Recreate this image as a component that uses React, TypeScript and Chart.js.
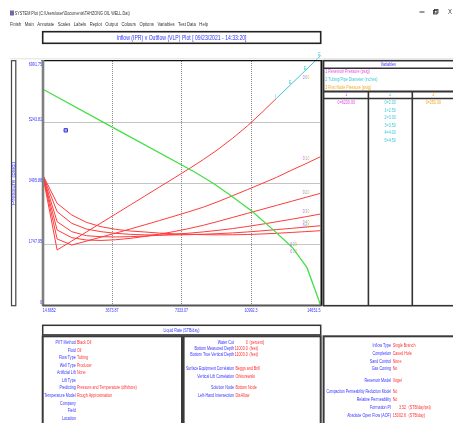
import React, { useEffect, useRef } from "react";
import { Chart, registerables } from "chart.js";

Chart.register(...registerables);

// ---------- data ----------
const liquidRates = [
  14.67, 785.03, 1555.39, 2325.75, 3096.11, 3866.47, 4636.83, 5407.19, 6177.55, 6947.91,
  7718.27, 8488.63, 9258.99, 10029.35, 10799.71, 11570.07, 12340.43, 13110.79, 13881.15, 14651.5,
];
const vlpDia200 = [3745, 1576, 1834, 2092, 2350, 2608, 2866, 3124, 3382, 3640, 3900, 4170, 4460, 4780, 5130, 5520, 5925, 6330, 6735, 7140];
const vlpDia250 = [3745, 1891, 1719, 1830, 1945, 2060, 2178, 2298, 2420, 2545, 2672, 2805, 2962, 3132, 3305, 3480, 3658, 3860, 4050, 4249];
const vlpDia300 = [3745, 2149, 1929, 1862, 1850, 1870, 1910, 1965, 2030, 2105, 2190, 2285, 2395, 2510, 2625, 2740, 2855, 2970, 3085, 3200];
const vlpDia350 = [3745, 2387, 2101, 1985, 1957, 1950, 1958, 1975, 1998, 2025, 2058, 2095, 2140, 2190, 2250, 2315, 2385, 2455, 2530, 2607];
const vlpDia400 = [3745, 2674, 2340, 2177, 2101, 2054, 2025, 2010, 2005, 2008, 2015, 2028, 2045, 2065, 2093, 2125, 2160, 2196, 2234, 2272];
const vlpDia450 = [3745, 2913, 2579, 2369, 2244, 2168, 2120, 2092, 2060, 2040, 2025, 2015, 2010, 2012, 2020, 2035, 2055, 2078, 2103, 2129];
const vlpSeries = [vlpDia200, vlpDia250, vlpDia300, vlpDia350, vlpDia400, vlpDia450];
const vlpNames = ["0=2.00", "1=2.50", "2=3.00", "3=3.50", "4=4.00", "5=4.50"];
const vlpFlagsDia200 = ["", "", "", "", "", "", "", "", "", "", "", "", "", "", "", "", "I", "E", "E", "E"];

const iprRates = [14.67, 4000, 8000, 9000, 9886, 11030, 12150, 13170, 13940, 14520, 14651.5];
const iprPressures = [6189, 5005, 3817, 3490, 3152, 2693, 2160, 1650, 1070, 200, 0];

const markerRates = [1240];
const markerPressures = [5005];

const xTickValues = [14.6652, 3673.87, 7333.07, 10992.3, 14651.5];
const xTickLabels = ["14.6652", "3673.87", "7333.07", "10992.3", "14651.5"];
const yTickValues = [0, 1747.95, 3495.88, 5243.81, 6991.75];
const yTickLabels = ["0", "1747.95", "3495.88", "5243.81", "6991.75"];

const menuItems = ["Finish", "Main", "Annotate", "Scales", "Labels", "Replot", "Output", "Colours", "Options", "Variables", "Test Data", "Help"];
const variableNames = ["1 Reservoir Pressure (psig)", "2 Tubing/Pipe Diameter (inches)", "3 First Node Pressure (psig)"];
const reservoirValues = ["0=6200.00"];
const wellheadValues = ["0=250.00"];

const leftLabels = ["PVT Method", "Fluid", "Flow Type", "Well Type", "Artificial Lift", "Lift Type", "Predicting", "Temperature Model", "Company", "Field", "Location"];
const leftValues = ["Black Oil", "Oil", "Tubing", "Producer", "None", "", "Pressure and Temperature (offshore)", "Rough Approximation", "", "", ""];
const midLabels = ["Water Cut", "Bottom Measured Depth", "Bottom True Vertical Depth", "Surface Equipment Correlation", "Vertical Lift Correlation", "Solution Node", "Left-Hand Intersection"];
const midNumbers = ["0", "11000.0", "11000.0", "", "", "", ""];
const midUnits = ["(percent)", "(feet)", "(feet)", "", "", "", ""];
const midTexts = ["", "", "", "Beggs and Brill", "Orkiszewski", "Bottom Node", "DisAllow"];
const rightLabels = ["Inflow Type", "Completion", "Sand Control", "Gas Coning", "Reservoir Model", "Compaction Permeability Reduction Model", "Relative Permeability", "Formation PI", "Absolute Open Flow (AOF)"];
const rightNumbers = ["", "", "", "", "", "", "", "3.52", "15002.6"];
const rightUnits = ["", "", "", "", "", "", "", "(STB/day/psi)", "(STB/day)"];
const rightTexts = ["Single Branch", "Cased Hole", "None", "No", "Vogel", "No", "No", "", ""];

// ---------- styles ----------
const FONT = '"Liberation Sans", Arial, sans-serif';
const BLUE = "#3434ff";
const RED = "#ff2e2e";
const LINE_RED = "#ff3b3b";
const CYAN = "#3cc6d6";
const MAGENTA = "#e24ae2";
const ORANGE = "#f2a81e";
const GREEN = "#44e044";
const SX = 0.73;

function drawText(
  ctx: CanvasRenderingContext2D, s: string, x: number, y: number, size: number, color: string,
  align: CanvasTextAlign = "left", width?: number, sx: number = SX
) {
  if (!s) return;
  ctx.save();
  ctx.font = `${size}px ${FONT}`;
  const w = ctx.measureText(s).width;
  const k = width ? Math.min(width / w, sx) : sx;
  ctx.translate(x, y);
  ctx.scale(k, 1);
  ctx.fillStyle = color;
  ctx.textAlign = align;
  ctx.textBaseline = "middle";
  ctx.fillText(s, 0, 0);
  ctx.restore();
}

function box(ctx: CanvasRenderingContext2D, x: number, y: number, w: number, h: number, lw = 1.5, color = "#333") {
  ctx.save();
  ctx.strokeStyle = color;
  ctx.lineWidth = lw;
  ctx.strokeRect(x, y, w, h);
  ctx.restore();
}

function hline(ctx: CanvasRenderingContext2D, x1: number, x2: number, y: number, lw: number, color: string) {
  ctx.save();
  ctx.strokeStyle = color;
  ctx.lineWidth = lw;
  ctx.beginPath();
  ctx.moveTo(x1, y);
  ctx.lineTo(x2, y);
  ctx.stroke();
  ctx.restore();
}
function vline(ctx: CanvasRenderingContext2D, x: number, y1: number, y2: number, lw: number, color: string) {
  ctx.save();
  ctx.strokeStyle = color;
  ctx.lineWidth = lw;
  ctx.beginPath();
  ctx.moveTo(x, y1);
  ctx.lineTo(x, y2);
  ctx.stroke();
  ctx.restore();
}

const framePlugin = {
  id: "frame",
  beforeDatasetsDraw(chart: any) {
    const ctx: CanvasRenderingContext2D = chart.ctx;
    const { left, right, top, bottom } = chart.chartArea;
    const xs = chart.scales.x;
    const ys = chart.scales.y;
    ctx.save();
    ctx.strokeStyle = "#8a8a8a";
    ctx.lineWidth = 1;
    ctx.setLineDash([1, 1]);
    xTickValues.slice(1, -1).forEach((v) => {
      const px = Math.round(xs.getPixelForValue(v)) + 0.5;
      ctx.beginPath();
      ctx.moveTo(px, top);
      ctx.lineTo(px, bottom);
      ctx.stroke();
    });
    yTickValues.slice(1, -1).forEach((v) => {
      const py = Math.round(ys.getPixelForValue(v)) + 0.5;
      ctx.beginPath();
      ctx.moveTo(left, py);
      ctx.lineTo(right, py);
      ctx.stroke();
    });
    ctx.restore();
  },
  afterDatasetsDraw(chart: any) {
    const ctx: CanvasRenderingContext2D = chart.ctx;
    const { left, right, top, bottom } = chart.chartArea;
    const xs = chart.scales.x;
    const ys = chart.scales.y;

    // plot frame
    hline(ctx, left - 1, right + 1, top - 0.3, 1.2, "#111");
    vline(ctx, right + 1, top - 1, bottom + 1, 2, "#111");
    vline(ctx, left + 0.5, top - 1, bottom + 1, 2.6, "#808080");
    hline(ctx, left, right + 1, bottom + 0.5, 2, "#555");

    // tick labels
    xTickValues.forEach((v, i) => {
      const px = xs.getPixelForValue(v);
      const align: CanvasTextAlign = i === 0 ? "left" : i === xTickValues.length - 1 ? "right" : "center";
      drawText(ctx, xTickLabels[i], px + (i === 0 ? 0.2 : 0), bottom + 5.7, 5, BLUE, align);
    });
    yTickValues.forEach((v, i) => {
      const py = ys.getPixelForValue(v);
      drawText(ctx, yTickLabels[i], left - 0.5, Math.max(py - 2.8, top + 4), 5, BLUE, "right");
    });

    // curve index labels
    const vlpMetas = [1, 2, 3, 4, 5, 6].map((d) => chart.getDatasetMeta(d));
    vlpMetas.forEach((meta: any, i: number) => {
      const pt = meta.data[18];
      const yOff = i === 0 ? 7.5 : -4.6;
      const x0 = pt.x - 3;
      drawText(ctx, "0", x0, pt.y + yOff, 4.5, MAGENTA, "left");
      drawText(ctx, String(i), x0 + 2.3, pt.y + yOff, 4.5, CYAN, "left");
      drawText(ctx, "0", x0 + 4.6, pt.y + yOff, 4.5, ORANGE, "left");
    });
    // flags on the 2.00 in curve
    const m0 = vlpMetas[0];
    vlpFlagsDia200.forEach((f, j) => {
      if (!f) return;
      const pt = m0.data[j];
      drawText(ctx, f, pt.x - 1, pt.y - 1.2, 5, CYAN, "center");
    });
    // IPR labels
    const gMeta = chart.getDatasetMeta(0);
    const gp = gMeta.data[7];
    [-2.6, 4.6].forEach((dy) => {
      drawText(ctx, "0", gp.x - 2, gp.y + dy, 4.5, MAGENTA, "left");
      drawText(ctx, "0", gp.x + 0.3, gp.y + dy, 4.5, CYAN, "left");
      drawText(ctx, "0", gp.x + 2.6, gp.y + dy, 4.5, ORANGE, "left");
    });

    // ---------- window chrome ----------
    ctx.save();
    ctx.fillStyle = "#5b6fb4";
    ctx.fillRect(10, 10.5, 4, 5);
    ctx.fillStyle = "#e04848";
    ctx.fillRect(11, 11.5, 2, 2);
    ctx.restore();
    drawText(ctx, "SYSTEM Plot (C:\\Users\\user\\Documents\\TAHZONG OIL WELL.Dat)", 14.7, 13.3, 5.5, "#333", "left", 115, 2);
    hline(ctx, 419.5, 424.5, 12, 1, "#333");
    box(ctx, 433.5, 10.5, 3.5, 3.5, 0.8, "#333");
    box(ctx, 434.5, 9.5, 3.5, 3.5, 0.8, "#333");
    drawText(ctx, "X", 450, 12, 6.5, "#333", "center", undefined, 0.9);

    // menu bar
    drawText(ctx, menuItems.join("   "), 10, 24, 5.5, "#333", "left", 198, 2);

    // title box
    box(ctx, 42.7, 31.7, 278, 11.6, 1.6, "#222");
    drawText(ctx, "Inflow (IPR) v Outflow (VLP) Plot [ 09/23/2021 - 14:33:20]", 181.5, 37.6, 7, BLUE, "center", 130, 2);

    // separator
    hline(ctx, 10, 453, 58.8, 1, "#e2e2e2");

    // left narrow axis-title box
    box(ctx, 11.5, 60.7, 4.3, 245, 1.2, "#444");
    ctx.save();
    ctx.translate(13.7, 183.5);
    ctx.rotate(-Math.PI / 2);
    drawText(ctx, "Pressure (psig)", 0, 0, 5, BLUE, "center", 43, 2);
    ctx.restore();

    // variables panel
    box(ctx, 323.6, 60.7, 140, 245, 1.6, "#333");
    drawText(ctx, "Variables", 388.3, 64.3, 5, BLUE, "center");
    hline(ctx, 323.6, 453, 68.2, 1.6, "#333");
    const varColors = [MAGENTA, CYAN, ORANGE];
    variableNames.forEach((n, i) => drawText(ctx, n, 325.3, 71.7 + i * 8, 5, varColors[i], "left"));
    hline(ctx, 323.6, 453, 91.5, 2, "#333");
    hline(ctx, 323.6, 453, 98.5, 1.4, "#333");
    vline(ctx, 368.4, 91, 305.5, 1.6, "#333");
    vline(ctx, 412.3, 91, 305.5, 1.6, "#333");
    const colX = [346.3, 390.2, 433.3];
    ["1", "2", "3"].forEach((c, i) => drawText(ctx, c, colX[i], 95, 5, varColors[i], "center"));
    reservoirValues.forEach((v, i) => drawText(ctx, v, colX[0], 102.7 + i * 7.6, 5, MAGENTA, "center"));
    vlpNames.forEach((v, i) => drawText(ctx, v, colX[1], 102.7 + i * 7.6, 5, CYAN, "center"));
    wellheadValues.forEach((v, i) => drawText(ctx, v, colX[2], 102.7 + i * 7.6, 5, ORANGE, "center"));

    // liquid rate box
    box(ctx, 42.7, 325.3, 278, 9.6, 1.5, "#333");
    drawText(ctx, "Liquid Rate (STB/day)", 181.5, 330.2, 5, BLUE, "center");

    // bottom panels
    box(ctx, 42.7, 336.3, 139.3, 100, 2, "#3a3a3a");
    box(ctx, 183.6, 336.3, 137.1, 100, 2, "#3a3a3a");
    box(ctx, 323.6, 336.3, 140, 100, 2, "#3a3a3a");

    const leftY = [342.7, 350.3, 357.8, 365.3, 372.9, 380.6, 388.0, 395.9, 403.3, 411.0, 418.8];
    leftLabels.forEach((l, i) => {
      drawText(ctx, l, 75.7, leftY[i], 5, BLUE, "right");
      drawText(ctx, leftValues[i], 76.9, leftY[i], 5, RED, "left");
    });

    const midY = [342.7, 348.7, 354.7, 368.7, 376.7, 388.0, 396.0];
    midLabels.forEach((l, i) => {
      drawText(ctx, l, 234, midY[i], 5, BLUE, "right", 48);
      drawText(ctx, midNumbers[i], 247.7, midY[i], 5, RED, "right");
      drawText(ctx, midUnits[i], 249.5, midY[i], 5, RED, "left");
      drawText(ctx, midTexts[i], 235.4, midY[i], 5, RED, "left");
    });

    const rightY = [345.3, 353.3, 361.3, 368.7, 380.7, 392.0, 399.3, 407.7, 415.7];
    rightLabels.forEach((l, i) => {
      drawText(ctx, l, 391, rightY[i], 5, BLUE, "right", 64.5);
      drawText(ctx, rightTexts[i], 392.7, rightY[i], 5, RED, "left");
      drawText(ctx, rightNumbers[i], 406, rightY[i], 5, RED, "right");
      drawText(ctx, rightUnits[i], 408.6, rightY[i], 5, RED, "left");
    });
  },
};

export default function App() {
  const ref = useRef<HTMLCanvasElement | null>(null);

  useEffect(() => {
    if (!ref.current) return;
    const datasets: any[] = [
      {
        label: "IPR",
        data: iprRates.map((q, i) => ({ x: q, y: iprPressures[i] })),
        borderColor: GREEN,
        borderWidth: 1.3,
        pointRadius: 0,
        tension: 0,
      },
      ...vlpSeries.map((arr, i) => ({
        label: vlpNames[i],
        data: liquidRates.map((q, j) => ({ x: q, y: arr[j] })),
        borderColor: LINE_RED,
        borderWidth: 1,
        pointRadius: 0,
        tension: 0,
        clip: i === 0 ? false : undefined,
        segment: i === 0 ? { borderColor: (c: any) => (c.p0DataIndex >= 16 ? CYAN : LINE_RED) } : undefined,
      })),
      {
        label: "marker",
        type: "scatter",
        data: markerRates.map((q, i) => ({ x: q, y: markerPressures[i] })),
        pointStyle: "rect",
        pointRadius: 2.4,
        borderColor: "#3a3ad8",
        backgroundColor: "#a8a8f4",
        borderWidth: 1,
        showLine: false,
      },
    ];

    const chart = new Chart(ref.current, {
      type: "line",
      data: { datasets },
      options: {
        responsive: false,
        animation: false,
        devicePixelRatio: 1,
        events: [],
        layout: { padding: { left: 42.5, top: 61, right: 132.5, bottom: 118 } },
        scales: {
          x: { type: "linear", min: xTickValues[0], max: xTickValues[xTickValues.length - 1], display: false },
          y: { type: "linear", min: yTickValues[0], max: yTickValues[yTickValues.length - 1], display: false },
        },
        plugins: { legend: { display: false }, tooltip: { enabled: false } },
      } as any,
      plugins: [framePlugin as any],
    });
    return () => chart.destroy();
  }, []);

  return (
    <canvas
      ref={ref}
      width={453}
      height={423}
      style={{ position: "fixed", left: 0, top: 0, width: 453, height: 423, background: "#fff" }}
    />
  );
}
